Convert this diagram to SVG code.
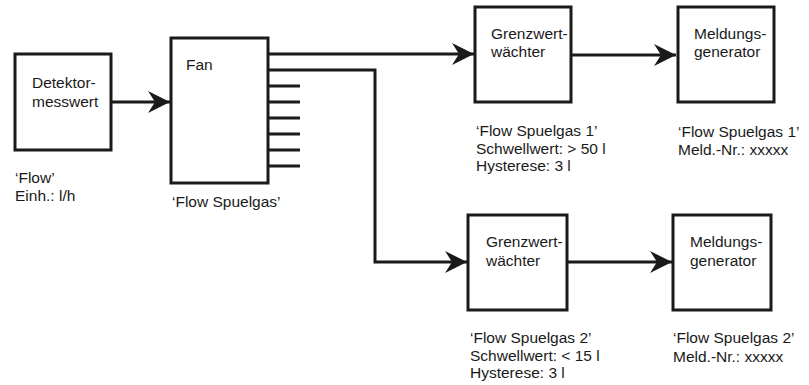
<svg xmlns="http://www.w3.org/2000/svg" width="809" height="385" viewBox="0 0 809 385">
<defs>
<style>
.box{fill:#fff;stroke:#1a1a1a;stroke-width:3}
.t{font-family:"Liberation Sans",Arial,sans-serif;font-size:15.5px;fill:#1a1a1a}
.c{fill:none;stroke:#1a1a1a;stroke-width:3}
</style>
<marker id="ah" markerUnits="userSpaceOnUse" markerWidth="24" markerHeight="22" refX="22" refY="11" orient="auto" viewBox="0 0 24 22">
<path d="M0,0 L22,11 L0,22 L7,11 Z" fill="#1a1a1a"/>
</marker>
</defs>
<rect width="809" height="385" fill="#fff"/>
<g id="connectors">
<path class="c" d="M111,102 H170" marker-end="url(#ah)"/>
<path class="c" d="M268,54 H474" marker-end="url(#ah)"/>
<path class="c" d="M268,70 H375 V262 H467" marker-end="url(#ah)"/>
<path class="c" d="M268,86 H300 M268,102 H300 M268,118 H300 M268,134 H300 M268,150 H300 M268,166 H300"/>
<path class="c" d="M571,55 H676" marker-end="url(#ah)"/>
<path class="c" d="M567,262 H672" marker-end="url(#ah)"/>
</g>
<g id="detektor">
<rect class="box" x="15" y="54" width="96" height="96"/>
<text class="t" x="32" y="88">Detektor-</text>
<text class="t" x="32" y="106.5">messwert</text>
<text class="t" x="15" y="183">‘Flow’</text>
<text class="t" x="15" y="201">Einh.: l/h</text>
</g>
<g id="fan">
<rect class="box" x="171" y="38" width="97" height="145"/>
<text class="t" x="186" y="70">Fan</text>
<text class="t" x="172" y="207">‘Flow Spuelgas’</text>
</g>
<g id="grenzwert1">
<rect class="box" x="475" y="7" width="96" height="95"/>
<text class="t" x="491" y="38.5">Grenzwert-</text>
<text class="t" x="491" y="57">wächter</text>
<text class="t" x="476" y="136">‘Flow Spuelgas 1’</text>
<text class="t" x="476" y="153.5">Schwellwert: &gt; 50 l</text>
<text class="t" x="476" y="171">Hysterese: 3 l</text>
</g>
<g id="meldung1">
<rect class="box" x="678" y="7" width="96" height="95"/>
<text class="t" x="694" y="39">Meldungs-</text>
<text class="t" x="694" y="57">generator</text>
<text class="t" x="678" y="136.5">‘Flow Spuelgas 1’</text>
<text class="t" x="678" y="154.5">Meld.-Nr.: xxxxx</text>
</g>
<g id="grenzwert2">
<rect class="box" x="468" y="215" width="99" height="95"/>
<text class="t" x="486" y="247">Grenzwert-</text>
<text class="t" x="486" y="265.5">wächter</text>
<text class="t" x="470" y="343">‘Flow Spuelgas 2’</text>
<text class="t" x="470" y="360.5">Schwellwert: &lt; 15 l</text>
<text class="t" x="470" y="378">Hysterese: 3 l</text>
</g>
<g id="meldung2">
<rect class="box" x="673" y="215" width="98" height="95"/>
<text class="t" x="690" y="247">Meldungs-</text>
<text class="t" x="690" y="265.5">generator</text>
<text class="t" x="673" y="343">‘Flow Spuelgas 2’</text>
<text class="t" x="673" y="361.5">Meld.-Nr.: xxxxx</text>
</g>
</svg>
